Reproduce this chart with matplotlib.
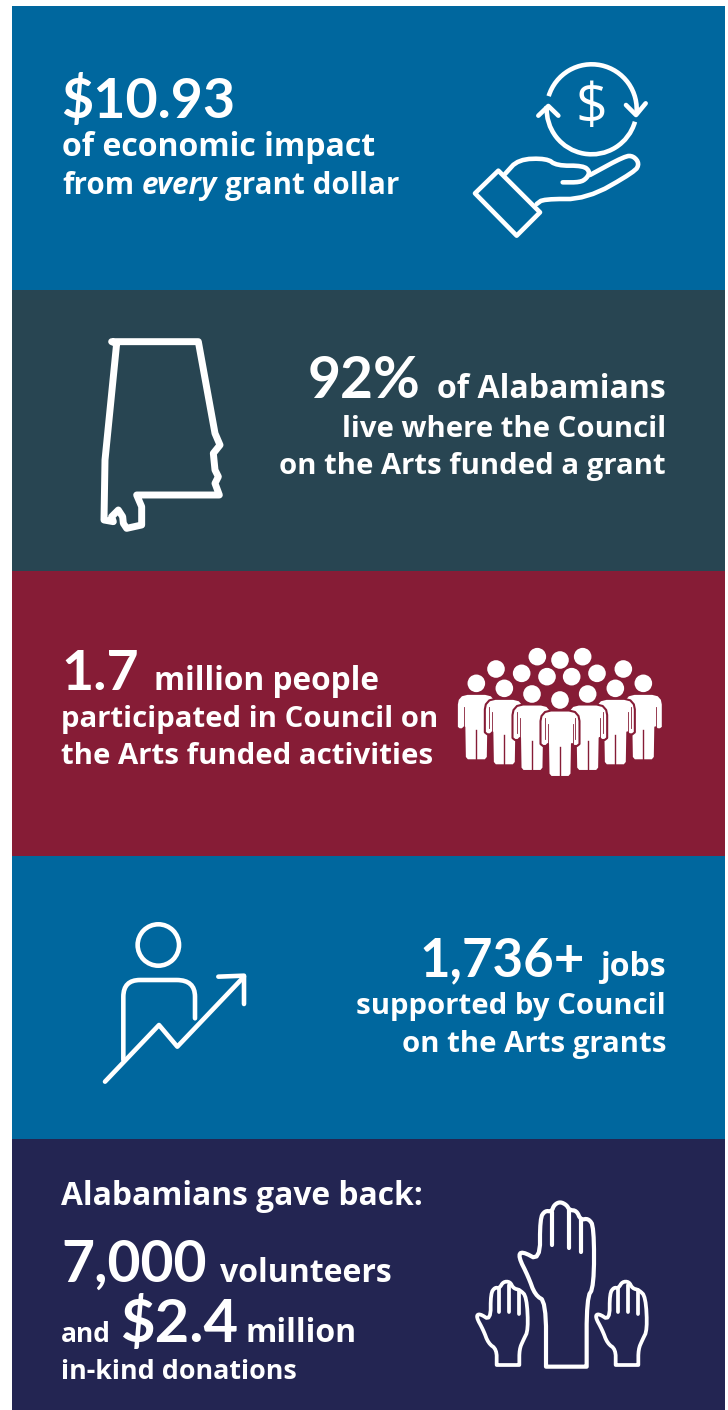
import matplotlib
matplotlib.use('Agg')
import matplotlib.pyplot as plt
from matplotlib.patches import Rectangle, Circle, Arc, Polygon, PathPatch
from matplotlib.path import Path

# panels
panel_tops = [6, 290, 571, 856, 1139]
panel_bottoms = [290, 571, 856, 1139, 1410]
panel_colors = ['#00679e', '#284552', '#861c36', '#00679e', '#232552']

BIG = 'Lato'
BODY = 'Open Sans'
WHITE = '#ffffff'

# text rows: anchor x, baseline y, anchor side, [(text, font, size, style, gap after)]
rows = [
    (61, 118, 'left', [('$10.93', BIG, 40, 'normal', 0)]),
    (62.5, 156, 'left', [('of economic impact', BODY, 23, 'normal', 0)]),
    (62.5, 194, 'left', [('from', BODY, 21.3, 'normal', 7), ('every', BODY, 21.3, 'italic', 8),
                         ('grant dollar', BODY, 21.3, 'normal', 0)]),
    (666, 398, 'right', [('92%', BIG, 41, 'normal', 17), ('of Alabamians', BODY, 23, 'normal', 0)]),
    (666, 437, 'right', [('live where the Council', BODY, 21.1, 'normal', 0)]),
    (666, 474, 'right', [('on the Arts funded a grant', BODY, 21.1, 'normal', 0)]),
    (61, 690, 'left', [('1.7', BIG, 40, 'normal', 15), ('million people', BODY, 22.8, 'normal', 0)]),
    (61, 727, 'left', [('participated in Council on', BODY, 21.1, 'normal', 0)]),
    (61, 764, 'left', [('the Arts funded activities', BODY, 21.2, 'normal', 0)]),
    (666, 976, 'right', [('1,736+', BIG, 38, 'normal', 16), ('jobs', BODY, 23, 'normal', 0)]),
    (666, 1014, 'right', [('supported by Council', BODY, 21.2, 'normal', 0)]),
    (666, 1052, 'right', [('on the Arts grants', BODY, 21.2, 'normal', 0)]),
    (61, 1205, 'left', [('Alabamians gave back:', BODY, 22.9, 'normal', 0)]),
    (61, 1282, 'left', [('7,000', BIG, 41, 'normal', 14), ('volunteers', BODY, 23, 'normal', 0)]),
    (61, 1342, 'left', [('and', BODY, 19, 'normal', 9), ('$2.4', BIG, 43, 'normal', 7),
                        ('million', BODY, 23, 'normal', 0)]),
    (61, 1379, 'left', [('in-kind donations', BODY, 19.4, 'normal', 0)]),
]

fig = plt.figure(figsize=(7.28, 14.10), dpi=100, facecolor='white')
ax = fig.add_axes([0, 0, 1, 1])
ax.set_xlim(0, 728)
ax.set_ylim(1410, 0)
ax.axis('off')

for top, bottom, color in zip(panel_tops, panel_bottoms, panel_colors):
    ax.add_patch(Rectangle((12, top), 713, bottom - top, color=color, lw=0))

renderer = fig.canvas.get_renderer()


def draw_row(x, y, side, runs):
    items = []
    total = 0
    for text, font, size, style, gap in runs:
        t = ax.text(0, y, text, family=font, size=size, style=style, weight='bold',
                    color=WHITE, va='baseline', ha='left')
        w = t.get_window_extent(renderer).width
        items.append((t, w + gap))
        total += w + gap
    pos = x if side == 'left' else x - total
    for t, w in items:
        t.set_x(pos)
        pos += w


for row in rows:
    draw_row(*row)


def soften(pts, closed, rounds=2):
    # corner cutting so the hand outlines are not so angular
    for _ in range(rounds):
        out = []
        n = len(pts)
        last = n if closed else n - 1
        if not closed:
            out.append(pts[0])
        for i in range(last):
            a, b = pts[i], pts[(i + 1) % n]
            out.append((0.75 * a[0] + 0.25 * b[0], 0.75 * a[1] + 0.25 * b[1]))
            out.append((0.25 * a[0] + 0.75 * b[0], 0.25 * a[1] + 0.75 * b[1]))
        if not closed:
            out.append(pts[-1])
        pts = out
    return pts


def line(pts, ox, oy, lw=3.3, closed=False, smooth=False, color=WHITE):
    xy = [(ox + a / 3.0, oy + b / 3.0) for a, b in pts]
    if smooth:
        xy = soften(xy, closed)
    ax.add_patch(Polygon(xy, closed=closed, fill=False, edgecolor=color, lw=lw,
                         joinstyle='round', capstyle='round'))


# money hand
HX, HY = 440, 50
ax.add_patch(Arc((591.7, 109.3), 90, 90, theta1=-163, theta2=7, color=WHITE, lw=3.3))
ax.add_patch(Arc((591.7, 109.3), 90, 90, theta1=16, theta2=184, color=WHITE, lw=3.3))
line([(295, 197), (325, 168), (355, 197)], HX, HY)
line([(558, 165), (588, 195), (617, 160)], HX, HY)
ax.text(591.7, 109.5, '$', family=BODY, size=40, weight='normal', color=WHITE, ha='center', va='center')
line([(105, 430), (175, 362), (300, 487), (230, 557)], HX, HY, closed=True)
line([(195, 372), (235, 328), (320, 325), (350, 347), (430, 347), (450, 365),
      (440, 385), (420, 397), (368, 397)], HX, HY, smooth=True)
line([(450, 375), (555, 318), (580, 318), (598, 340), (585, 365), (440, 447),
      (310, 447), (290, 462)], HX, HY, smooth=True)

# alabama
line([(95, 65), (355, 65), (405, 340), (420, 375), (400, 400), (405, 450), (415, 470),
      (405, 490), (418, 525), (170, 525), (185, 560), (185, 615), (140, 625), (130, 610),
      (128, 590), (115, 570), (95, 590), (100, 605), (72, 600), (75, 420), (110, 70)],
     80, 320, lw=5, closed=True)

# crowd
CX, CY = 450, 640
back_heads = [(262, 50), (330, 60), (398, 50), (138, 87), (215, 100), (291, 110),
              (365, 110), (441, 100), (520, 87)]
front_heads = [(79, 130), (580, 130), (163, 145), (496, 145), (246, 162), (413, 162), (330, 180)]
body_shape = [(-9, 10.5), (9, 10.5), (15, 12), (18.5, 16), (19.5, 21), (19.5, 44), (17, 46), (14, 46),
              (12, 44), (11.5, 74), (9, 77), (-9, 77), (-11.5, 74), (-12, 44), (-14, 46), (-17, 46),
              (-19.5, 44), (-19.5, 21), (-18.5, 16), (-15, 12)]
for a, b in back_heads:
    ax.add_patch(Circle((CX + a / 3, CY + b / 3), 8.8, color=WHITE, lw=0))
for a, b in front_heads:
    hx, hy = CX + a / 3, CY + b / 3
    body = [(hx + p, hy + q) for p, q in body_shape]
    ax.add_patch(Polygon(body, closed=True, facecolor=WHITE, edgecolor=panel_colors[2], lw=1.5,
                         joinstyle='round', zorder=3))
    ax.add_patch(Circle((hx, hy), 8.8, color=WHITE, lw=0, zorder=3))
    ax.plot([hx - 12.5, hx - 12.5], [hy + 24, hy + 45], color=panel_colors[2], lw=0.6, zorder=4)
    ax.plot([hx + 12.5, hx + 12.5], [hy + 24, hy + 45], color=panel_colors[2], lw=0.6, zorder=4)
    ax.plot([hx, hx], [hy + 47, hy + 77], color=panel_colors[2], lw=1.0, zorder=4)

# rising person
PX, PY = 90, 910
ax.add_patch(Circle((PX + 205 / 3, PY + 105 / 3), 20.7, fill=False, edgecolor=WHITE, lw=3.3))
line([(45, 515), (207, 345), (262, 410), (462, 200)], PX, PY)
line([(385, 200), (462, 197), (462, 282)], PX, PY)
verts = [(100, 450), (100, 260), (100, 210), (150, 210), (260, 210), (315, 210), (315, 260), (315, 325)]
verts = [(PX + a / 3, PY + b / 3) for a, b in verts]
codes = [Path.MOVETO, Path.LINETO, Path.CURVE3, Path.CURVE3, Path.LINETO, Path.CURVE3, Path.CURVE3, Path.LINETO]
ax.add_patch(PathPatch(Path(verts, codes), fill=False, edgecolor=WHITE, lw=3.3, capstyle='round'))

# raised hands
RX, RY = 460, 1190
big_hand = [(258, 530), (258, 530), (258, 530), (258, 335), (225, 315), (205, 260), (175, 200), (185, 183),
            (240, 213), (240, 85), (255, 62), (275, 65), (282, 45), (300, 35), (320, 45), (328, 60),
            (350, 62), (362, 90), (385, 85), (402, 110), (402, 290), (380, 325),
            (380, 530), (380, 530), (380, 530)]
line(big_hand, RX, RY, lw=3.0, closed=True, smooth=True)
for a, b, c in [(275, 65, 165), (328, 60, 175), (362, 90, 185)]:
    line([(a, b), (a, c)], RX, RY, lw=3.0)
small_hand = [(110, 525), (110, 525), (110, 525), (110, 478), (85, 460), (70, 420), (48, 380), (58, 370),
              (92, 392), (92, 310), (105, 292), (118, 295), (130, 275), (150, 275), (160, 295), (180, 300),
              (200, 320), (205, 420), (190, 450), (178, 478), (178, 525), (178, 525), (178, 525)]
small_fingers = [(118, 295, 365), (148, 285, 365), (178, 300, 372)]
for shift in [0, 357]:
    line([(a + shift, b) for a, b in small_hand], RX, RY, lw=2.7, closed=True, smooth=True)
    for a, b, c in small_fingers:
        line([(a + shift, b), (a + shift, c)], RX, RY, lw=2.7)

fig.savefig('out.png', dpi=100, facecolor='white')
